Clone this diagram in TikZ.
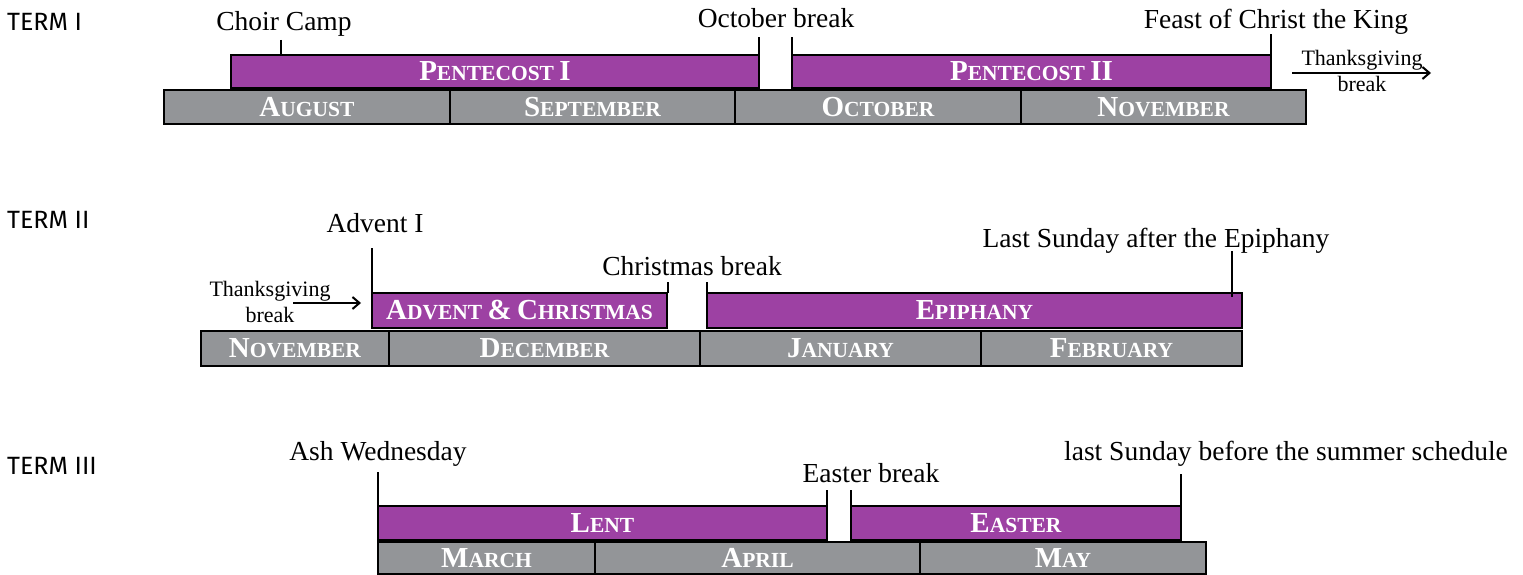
\documentclass[tikz,border=0pt]{standalone}
\usepackage{fontspec}
\setmainfont{Liberation Serif}
\newfontfamily\termfont{Fira Sans}
\usetikzlibrary{arrows.meta}
\definecolor{purp}{RGB}{157,65,163}
\definecolor{greyc}{RGB}{147,149,152}
\newcommand\SC[2]{{\fontsize{29}{30}\selectfont #1}{\fontsize{21.5}{22}\selectfont #2}}
\begin{document}
\begin{tikzpicture}[x=1pt,y=-1pt,
  season/.style={draw=black, line width=2pt, fill=purp, text=white, font=\bfseries\fontsize{21.5}{22}\selectfont, inner sep=0pt, outer sep=0pt, minimum height=33pt},
  month/.style={season, fill=greyc, minimum height=34pt},
  lbl/.style={font=\fontsize{27.5}{28}\selectfont, anchor=base, inner sep=0pt},
  smalllbl/.style={font=\fontsize{22}{23}\selectfont, anchor=base, inner sep=0pt},
  term/.style={font=\termfont\fontsize{25}{27}\selectfont, anchor=west, inner sep=0pt},
  tickl/.style={line width=2pt},
  arr/.style={line width=2pt, -{Straight Barb[length=7pt,width=12pt]}}]
\useasboundingbox (0,0) rectangle (1523,575);
% ---------- TERM I
\node[term] (t1) at (7,22) {TERM I};
\node[season, minimum width=528pt] (p1) at (495,71.5) {\SC{P}{ENTECOST} \SC{I}{}};
\node[season, minimum width=479pt] (p2) at (1031.5,71.5) {\SC{P}{ENTECOST} \SC{II}{}};
\node[month, minimum width=286pt] (aug) at (307,107) {\SC{A}{UGUST}};
\node[month, minimum width=285pt] (sep) at (592.5,107) {\SC{S}{EPTEMBER}};
\node[month, minimum width=286pt] (oct) at (878,107) {\SC{O}{CTOBER}};
\node[month, minimum width=285pt] (nov1) at (1163.5,107) {\SC{N}{OVEMBER}};
\node[lbl] (cc) at (284,31) {Choir Camp};
\coordinate (cct) at (281,40);
\draw[tickl] (cct) -- (cct |- p1.north);
\node[lbl] (ob) at (776,28) {October break};
\coordinate (ob1) at (759,37);
\coordinate (ob2) at (792,37);
\draw[tickl] (p1.north east) -- (ob1);
\draw[tickl] (p2.north west) -- (ob2);
\node[lbl] (fc) at (1276,29) {Feast of Christ the King};
\coordinate (fct) at (1271,34);
\draw[tickl] (p2.north east) -- (fct);
\node[smalllbl] (tg1) at (1362,66) {Thanksgiving};
\node[smalllbl] (br1) at (1362,92) {break};
\coordinate (a1s) at (1292,73);
\coordinate (a1e) at (1431,73);
\draw[arr] (a1s) -- (a1e);
% ---------- TERM II
\node[term] (t2) at (7,220) {TERM II};
\node[season, minimum width=295pt, minimum height=35pt] (ac) at (519.5,310.5) {\SC{A}{DVENT} \SC{\&}{} \SC{C}{HRISTMAS}};
\node[season, minimum width=535pt, minimum height=35pt] (ep) at (974.5,310.5) {\SC{E}{PIPHANY}};
\node[month, minimum width=188pt, minimum height=35pt] (nov2) at (295,348.5) {\SC{N}{OVEMBER}};
\node[month, minimum width=311pt, minimum height=35pt] (dec) at (544.5,348.5) {\SC{D}{ECEMBER}};
\node[month, minimum width=281pt, minimum height=35pt] (jan) at (840.5,348.5) {\SC{J}{ANUARY}};
\node[month, minimum width=261pt, minimum height=35pt] (feb) at (1111.5,348.5) {\SC{F}{EBRUARY}};
\node[lbl] (adv) at (375,232) {Advent I};
\coordinate (advt) at (372,248);
\draw[tickl] (ac.north west) -- (advt);
\node[lbl] (cb) at (692,275) {Christmas break};
\coordinate (cb1) at (668,282);
\coordinate (cb2) at (707,282);
\draw[tickl] (cb1) -- (cb1 |- ac.north);
\draw[tickl] (ep.north west) -- (cb2);
\node[lbl] (ls) at (1156,247) {Last Sunday after the Epiphany};
\coordinate (lst) at (1232,251);
\draw[tickl] (lst) -- (1232,297);
\node[smalllbl] (tg2) at (270,296) {Thanksgiving};
\node[smalllbl] (br2) at (270,322) {break};
\coordinate (a2s) at (293,303);
\coordinate (a2e) at (361,303);
\draw[arr] (a2s) -- (a2e);
% ---------- TERM III
\node[term] (t3) at (7,466) {TERM III};
\node[season, minimum width=449pt, minimum height=34pt] (le) at (602.5,523) {\SC{L}{ENT}};
\node[season, minimum width=330pt, minimum height=34pt] (ea) at (1016,523) {\SC{E}{ASTER}};
\node[month, minimum width=217pt, minimum height=32pt] (mar) at (486.5,558) {\SC{M}{ARCH}};
\node[month, minimum width=325pt, minimum height=32pt] (apr) at (757.5,558) {\SC{A}{PRIL}};
\node[month, minimum width=286pt, minimum height=32pt] (may) at (1063,558) {\SC{M}{AY}};
\node[lbl] (aw) at (378,460) {Ash Wednesday};
\coordinate (awt) at (378,472);
\draw[tickl] (le.north west) -- (awt);
\node[lbl] (eb) at (871,482) {Easter break};
\coordinate (eb1) at (827,490);
\coordinate (eb2) at (851,490);
\draw[tickl] (le.north east) -- (eb1);
\draw[tickl] (ea.north west) -- (eb2);
\node[lbl] (lsb) at (1286,460) {last Sunday before the summer schedule};
\coordinate (lsbt) at (1181,474);
\draw[tickl] (ea.north east) -- (lsbt);
\end{tikzpicture}
\end{document}
